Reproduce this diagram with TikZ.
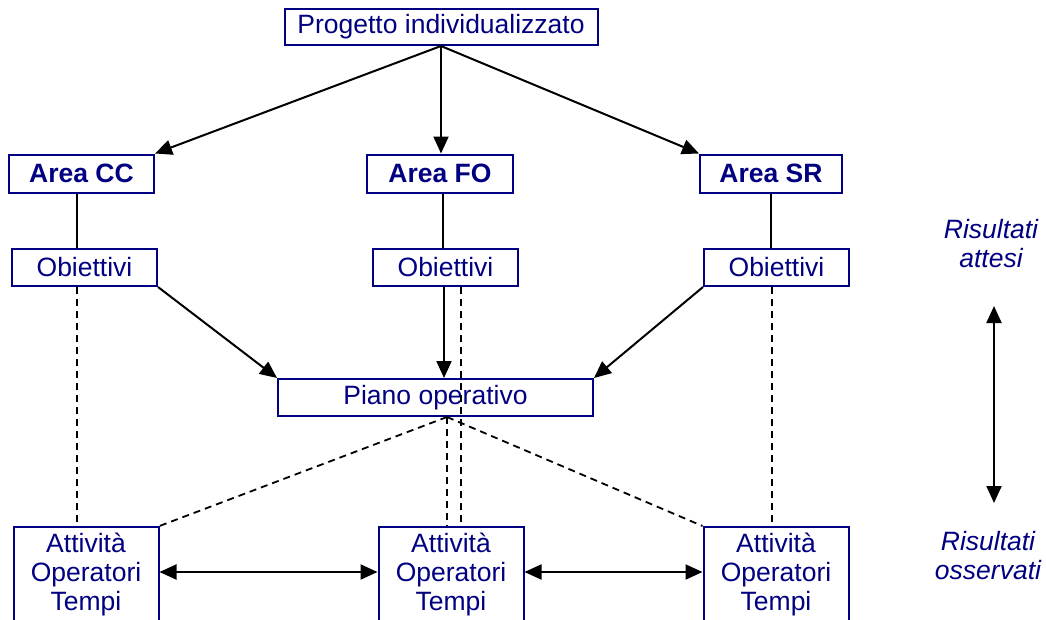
\documentclass[tikz,border=0pt]{standalone}
\usepackage{fontspec}
\setmainfont{Liberation Sans}
\usetikzlibrary{arrows.meta,calc}
\definecolor{navy}{RGB}{0,0,128}
\begin{document}
\begin{tikzpicture}[x=1pt,y=-1pt,
  box/.style={draw=navy, line width=2pt, text=navy, inner sep=0pt,
    font=\fontsize{26.5}{29}\selectfont},
  bbox/.style={box, font=\fontsize{26.5}{29}\selectfont\bfseries},
  actbox/.style={box, align=center, anchor=north, inner xsep=0pt, inner ysep=6pt, minimum width=145pt},
  conn/.style={line width=2pt, -{Triangle[length=17pt,width=15pt]}},
  dbl/.style={line width=2pt, {Triangle[length=17pt,width=15pt]}-{Triangle[length=17pt,width=15pt]}},
  plainline/.style={line width=2pt},
  dashline/.style={line width=1.8pt, dash pattern=on 7pt off 5pt},
  lbl/.style={text=navy, font=\fontsize{26.5}{29}\selectfont\itshape, align=center, inner sep=0pt}
]
\useasboundingbox (0,0) rectangle (1046,619);
\begin{scope}
\clip (0,0) rectangle (1046,619);

% nodes
\node[box, minimum width=313pt, minimum height=36pt] (top) at (441,27) {Progetto individualizzato};

\node[bbox, minimum width=145pt, minimum height=38pt] (acc) at (81.5,173.5) {Area CC};
\node[bbox, minimum width=146pt, minimum height=38pt] (afo) at (440,173.5) {Area FO};
\node[bbox, minimum width=142pt, minimum height=38pt] (asr) at (771,173.5) {Area SR};

\node[box, minimum width=145pt, minimum height=37pt] (occ) at (84.5,267.5) {Obiettivi};
\node[box, minimum width=145pt, minimum height=37pt] (ofo) at (445.5,267.5) {Obiettivi};
\node[box, minimum width=145pt, minimum height=37pt] (osr) at (776.5,267.5) {Obiettivi};

\node[box, minimum width=315pt, minimum height=37pt] (pop) at (435.5,397.5) {Piano operativo};

\node[actbox] (bcc) at (86,526) {Attività\\Operatori\\Tempi};
\node[actbox] (bfo) at (451,526) {Attività\\Operatori\\Tempi};
\node[actbox] (bsr) at (776,526) {Attività\\Operatori\\Tempi};

\node[lbl] (ratt) at (991,244) {Risultati\\attesi};
\node[lbl] (ross) at (988,556) {Risultati\\osservati};

\coordinate (ra1) at (994,306);
\coordinate (ra2) at (994,503);
\coordinate (apex) at ([xshift=11.5pt]pop.south);

% top arrows
\draw[conn] (top.south) -- (acc.north east);
\draw[conn] (top.south) -- (top.south |- afo.north);
\draw[conn] (top.south) -- (asr.north west);

% area to objectives
\draw[plainline] ([xshift=-4.5pt]acc.south) -- ([xshift=-4.5pt]acc.south |- occ.north);
\draw[plainline] ([xshift=3pt]afo.south) -- ([xshift=3pt]afo.south |- ofo.north);
\draw[plainline] (asr.south) -- (asr.south |- osr.north);

% objectives to piano
\draw[conn] (occ.south east) -- (pop.north west);
\draw[conn] ([xshift=-1.5pt]ofo.south) -- ([xshift=-1.5pt]ofo.south |- pop.north);
\draw[conn] (osr.south west) -- (pop.north east);

% dashed
\draw[dashline] ([xshift=-7.5pt]occ.south) -- ([xshift=-7.5pt]occ.south |- bcc.north);
\draw[dashline] ([xshift=15.5pt]ofo.south) -- ([xshift=15.5pt]ofo.south |- bfo.north);
\draw[dashline] ([xshift=-4.5pt]osr.south) -- ([xshift=-4.5pt]osr.south |- bsr.north);
\draw[dashline] (apex) -- (bcc.north east);
\draw[dashline] (apex) -- (apex |- bfo.north);
\draw[dashline] (apex) -- (bsr.north west);

% bottom double arrows
\draw[dbl] (bcc.north east |- 0,572) -- (bfo.north west |- 0,572);
\draw[dbl] (bfo.north east |- 0,572) -- (bsr.north west |- 0,572);

% right arrow
\draw[dbl] (ra1) -- (ra2);
\end{scope}
\end{tikzpicture}
\end{document}
